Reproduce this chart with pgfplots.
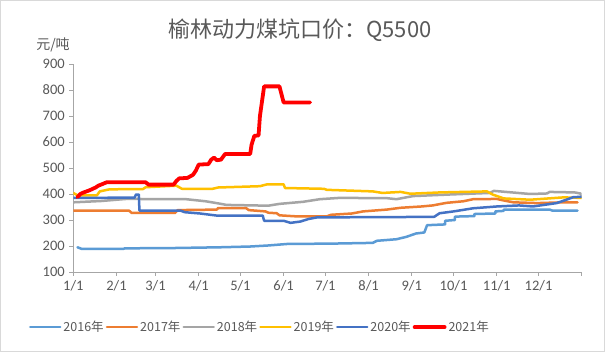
\documentclass[border=0pt]{standalone}
\usepackage{pgfplots}
\pgfplotsset{compat=1.18}
\usepackage{fontspec}
\setmainfont{Carlito}
\newfontfamily\cjk{Noto Sans CJK SC}
\definecolor{c16}{HTML}{5B9BD5}
\definecolor{c17}{HTML}{ED7D31}
\definecolor{c18}{HTML}{A5A5A5}
\definecolor{c19}{HTML}{FFC000}
\definecolor{c20}{HTML}{4472C4}
\definecolor{c21}{HTML}{FF0000}
\definecolor{txt}{HTML}{595959}
\definecolor{axl}{HTML}{A6A6A6}
\begin{document}
\begin{tikzpicture}[x=1pt,y=1pt]
\draw[draw=black!15, line width=0.8pt, fill=white] (0.4,0.4) rectangle (604.6,351.6);
\node[font=\cjk\fontsize{22}{24}\selectfont, text=txt] at (300,322) {榆林动力煤坑口价：Q5500};
\node[font=\cjk\fontsize{14}{16}\selectfont, text=txt] at (53,307) {元/吨};
\begin{axis}[
  at={(73.3pt,80pt)}, anchor=south west,
  scale only axis, width=508.4pt, height=208pt,
  xmin=0, xmax=365, ymin=100, ymax=900,
  ytick={100,200,...,900},
  xtick={0,31,59,90,120,151,181,212,243,273,304,334,365},
  xticklabels={1/1,2/1,3/1,4/1,5/1,6/1,7/1,8/1,9/1,10/1,11/1,12/1,},
  axis x line*=bottom, axis y line*=left,
  axis line style={draw=axl, line width=0.8pt, -},
  tick style={draw=axl, line width=0.8pt},
  tick align=outside, major tick length=4pt,
  ticklabel style={font=\fontsize{14.5}{16}\selectfont, text=txt},
  /pgf/number format/assume math mode=true,
  yticklabel style={xshift=-1pt},
  xticklabel style={yshift=-1pt},
  legend style={at={(0.367,-0.265)}, anchor=center, draw=none, fill=none,
    font=\cjk\fontsize{12.5}{15}\selectfont, text=txt, legend columns=6,
    /tikz/every even column/.append style={column sep=0pt},
    nodes={inner xsep=2pt}},
  legend image code/.code={\draw[#1] (0pt,0pt) -- (30pt,0pt);},
  every axis plot/.append style={line join=round, line cap=round},
]
\addplot[c16, line width=2.5pt] coordinates {(3,195)(6,189)(36,189)(37,191)(70,192)(105,195)(127,198)(140,202)(154,208)(184,209)(215,212)(218,220)(232,226)(239,235)(246,248)(252,252)(254,280)(267,283)(267,297)(274,300)(274,313)(288,315)(288,323)(303,325)(303,333)(309,335)(309,340)(342,340)(344,336)(362,336)};
\addlegendentry{2016年}
\addplot[c17, line width=2.5pt] coordinates {(0,336)(40,336)(42,327)(73,327)(75,338)(103,340)(104,346)(124,346)(126,338)(138,333)(140,328)(146,326)(148,318)(160,314)(182,314)(185,320)(200,325)(208,333)(225,340)(235,347)(250,352)(258,356)(268,366)(280,372)(287,380)(304,381)(310,374)(316,368)(333,365)(352,368)(362,368)};
\addlegendentry{2017年}
\addplot[c18, line width=2.5pt] coordinates {(0,368)(20,373)(38,381)(81,380)(88,376)(95,372)(105,363)(110,358)(140,355)(148,362)(165,370)(177,380)(191,385)(225,384)(232,380)(244,392)(270,398)(299,404)(302,412)(328,400)(340,402)(342,408)(360,406)(364,402)(365,395)};
\addlegendentry{2018年}
\addplot[c19, line width=2.5pt] coordinates {(0,404)(3,395)(17,395)(19,410)(26,418)(50,419)(52,426)(74,432)(78,420)(100,420)(104,425)(134,430)(139,437)(151,437)(152,423)(180,420)(182,416)(215,410)(222,404)(235,408)(242,401)(263,406)(297,410)(301,398)(309,383)(328,378)(352,387)(365,385)};
\addlegendentry{2019年}
\addplot[c20, line width=2.5pt] coordinates {(0,385)(44,386)(45,398)(47,398)(47.5,336)(77,336)(80,330)(91,325)(103,317)(136,317)(137,297)(151,297)(156,289)(163,294)(169,304)(175,310)(259,312)(263,326)(273,333)(287,345)(304,352)(320,356)(330,352)(347,365)(354,378)(359,388)(365,389)};
\addlegendentry{2020年}
\addplot[c21, line width=3.8pt] coordinates {(3,388)(5,400)(7,405)(12,415)(16,425)(18,432)(24,445)(52,445)(54,436)(72,436)(74,450)(76,460)(82,462)(86,474)(88,490)(90,513)(97,515)(99,532)(101,540)(103,530)(106,532)(109,554)(127,554)(128,590)(130,624)(133,625)(134,700)(137,814)(148,814)(151,752)(170,752)};
\addlegendentry{2021年}
\end{axis}
\end{tikzpicture}
\end{document}
